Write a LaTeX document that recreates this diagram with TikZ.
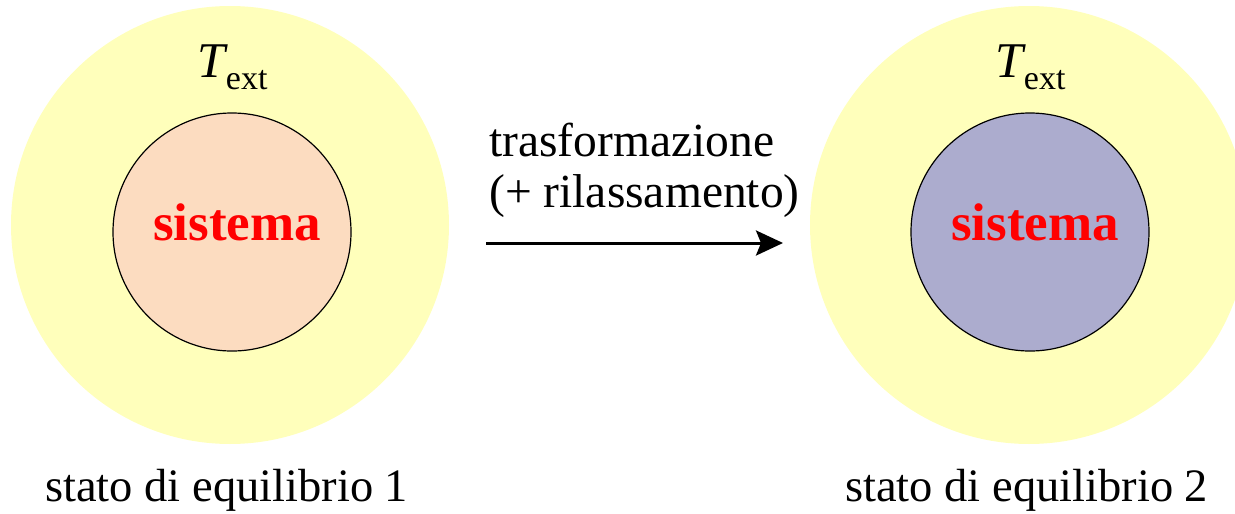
\documentclass[tikz,border=0pt]{standalone}
\usepackage{fontspec}
\setmainfont{Liberation Serif}
\usetikzlibrary{arrows.meta}
\definecolor{envyellow}{RGB}{255,255,187}
\definecolor{syspeach}{RGB}{252,220,192}
\definecolor{sysblue}{RGB}{172,172,206}
\begin{document}
\begin{tikzpicture}[x=1pt,y=-1pt,
  envdisk/.style={circle,fill=envyellow,draw=none,minimum size=438pt,inner sep=0pt},
  sysdisk/.style={circle,draw=black,line width=1.2pt,minimum size=238pt,inner sep=0pt},
  syslabel/.style={text=red,font=\fontsize{53}{53}\selectfont\bfseries,anchor=base},
  envlabel/.style={font=\fontsize{50}{50}\selectfont,anchor=base west,inner sep=0pt},
  caption/.style={font=\fontsize{46.5}{46.5}\selectfont,anchor=base west,inner sep=0pt},
  procarrow/.style={line width=3pt,-{Stealth[length=27pt,width=25pt,inset=5pt]}}]
\useasboundingbox (0,0) rectangle (1235,514);
\begin{scope}
\clip (0,0) rectangle (1235,514);
% surroundings at temperature T_ext
\node[envdisk] (env1) at (230,225) {};
\node[envdisk] (env2) at (1029,225) {};
% the system, before and after
\node[sysdisk,fill=syspeach] (sys1) at (232,232) {};
\node[sysdisk,fill=sysblue] (sys2) at (1030,232) {};
\end{scope}
\node[syslabel] (lab1) at (237,240) {sistema};
\node[syslabel] (lab2) at (1035,240) {sistema};
\node[envlabel] (t1) at (197,77) {\textit{T}\kern-2pt\raisebox{-13pt}{\fontsize{34}{34}\selectfont ext}};
\node[envlabel] (t2) at (995,77) {\textit{T}\kern-2pt\raisebox{-13pt}{\fontsize{34}{34}\selectfont ext}};
% process arrow with its description
\coordinate (a0) at (486,243);
\coordinate (a1) at (783,243);
\draw[procarrow] (a0) -- (a1);
\node[caption,font=\fontsize{47.5}{47.5}\selectfont] (proc1) at (489,156) {trasformazione};
\node[caption,font=\fontsize{47.5}{47.5}\selectfont] (proc2) at (489,207) {(+ rilassamento)};
% equilibrium states
\node[caption] (st1) at (45,501) {stato di equilibrio 1};
\node[caption] (st2) at (845,501) {stato di equilibrio 2};
\end{tikzpicture}
\end{document}
